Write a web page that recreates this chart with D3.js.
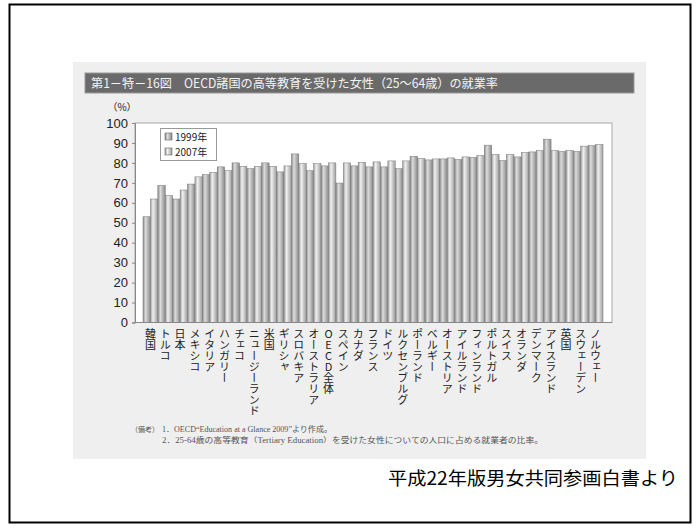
<!DOCTYPE html>
<html>
<head>
<meta charset="utf-8">
<script src="https://cdn.jsdelivr.net/npm/d3@7"></script>
<style>
  body { margin: 0; background: #fff; }
  text { font-family: "Noto Sans CJK JP", "Noto Sans", sans-serif; }
</style>
</head>
<body>
<div id="chart"></div>
<script>
// data
const countries = ["韓国", "トルコ", "日本", "メキシコ", "イタリア", "ハンガリー", "チェコ", "ニュージーランド", "米国", "ギリシャ", "スロバキア", "オーストラリア", "OECD全体", "スペイン", "カナダ", "フランス", "ドイツ", "ルクセンブルグ", "ポーランド", "ベルギー", "オーストリア", "アイルランド", "フィンランド", "ポルトガル", "スイス", "オランダ", "デンマーク", "アイスランド", "英国", "スウェーデン", "ノルウェー"];
const v1999 = [53.0, 68.7, 61.9, 69.4, 74.1, 78.0, 80.0, 77.1, 80.0, 75.5, 84.5, 76.1, 78.5, 69.9, 78.5, 78.0, 78.0, 77.1, 83.3, 81.5, 82.0, 81.7, 82.7, 88.9, 81.2, 83.0, 85.5, 91.9, 85.7, 85.7, 88.7];
const v2007 = [61.9, 63.6, 66.4, 73.0, 75.3, 76.1, 78.3, 78.3, 78.3, 78.5, 79.6, 79.6, 80.0, 80.0, 80.3, 80.5, 81.0, 81.0, 82.2, 82.0, 82.5, 83.0, 83.7, 84.2, 84.2, 85.2, 86.2, 86.2, 86.2, 88.4, 89.2];
const seriesNames = ["1999年", "2007年"];
const yTicks = [0, 10, 20, 30, 40, 50, 60, 70, 80, 90, 100];
const title = "第1－特－16図　OECD諸国の高等教育を受けた女性（25～64歳）の就業率";
const notes = ["1．OECD“Education at a Glance 2009”より作成。", "2．25-64歳の高等教育（Tertiary Education）を受けた女性についての人口に占める就業者の比率。"];
const source = "平成22年版男女共同参画白書より";

const W = 700, H = 528;
const svg = d3.select("#chart").append("svg").attr("width", W).attr("height", H);

// gradients for the cylinder-like bars
const defs = svg.append("defs");
const grads = [["g1999", "#8a8a8a", "#dcdcdc", "#b0b0b0"], ["g2007", "#9e9e9e", "#f0f0f0", "#c2c2c2"]];
grads.forEach(([id, edge, light, mid]) => {
  const g = defs.append("linearGradient").attr("id", id).attr("x1", 0).attr("x2", 1).attr("y1", 0).attr("y2", 0);
  g.append("stop").attr("offset", "0%").attr("stop-color", edge);
  g.append("stop").attr("offset", "35%").attr("stop-color", light);
  g.append("stop").attr("offset", "70%").attr("stop-color", mid);
  g.append("stop").attr("offset", "100%").attr("stop-color", edge);
});

// outer frame
svg.append("rect").attr("x", 9.5).attr("y", 4.5).attr("width", 681).attr("height", 518).attr("fill", "#fff").attr("stroke", "#000").attr("stroke-width", 2);

// scanned figure panel
svg.append("rect").attr("x", 73).attr("y", 62).attr("width", 573).attr("height", 397).attr("fill", "#efefef");
svg.append("rect").attr("x", 85).attr("y", 73).attr("width", 549).attr("height", 20).attr("fill", "#6a6a6a").attr("stroke", "#9a9a9a").attr("stroke-width", 1);
svg.append("text").attr("x", 91).attr("y", 88).attr("fill", "#f4f4f4").style("font-size", "12.5px")
  .attr("textLength", 407).attr("lengthAdjust", "spacingAndGlyphs").text(title);

const margin = { top: 123, left: 135, right: 612, bottom: 322.5 };
const y = d3.scaleLinear().domain([0, 100]).range([margin.bottom, margin.top]);
const x = d3.scaleBand().domain(countries).range([143, 603]).padding(0);
const xs = d3.scaleBand().domain(seriesNames).range([0, x.bandwidth()]).padding(0);

// plot area
svg.append("rect").attr("x", margin.left).attr("y", margin.top).attr("width", margin.right - margin.left).attr("height", margin.bottom - margin.top).attr("fill", "#fff").attr("stroke", "#a8a8a8").attr("stroke-width", 1);

const yAxis = svg.append("g").attr("transform", `translate(${margin.left},0)`)
  .call(d3.axisLeft(y).tickValues(yTicks).tickSize(3).tickPadding(4));
yAxis.select(".domain").attr("stroke", "#888");
yAxis.selectAll(".tick line").attr("stroke", "#888");
yAxis.selectAll(".tick text").attr("fill", "#222").style("font-size", "13px").style("font-family", "Liberation Sans, Arial, sans-serif");
svg.append("text").attr("x", 122).attr("y", 111).attr("text-anchor", "middle").attr("fill", "#222").style("font-size", "10px").text("（%）");

// bars
const rows = countries.map((c, i) => ({ c, vals: [v1999[i], v2007[i]] }));
const groups = svg.append("g").selectAll("g").data(rows).enter().append("g")
  .attr("transform", d => `translate(${x(d.c)},0)`);
groups.selectAll("rect").data(d => d.vals.map((v, k) => ({ k, v }))).enter().append("rect")
  .attr("x", d => xs(seriesNames[d.k]))
  .attr("y", d => y(d.v))
  .attr("width", xs.bandwidth())
  .attr("height", d => y(0) - y(d.v))
  .attr("fill", d => `url(#${grads[d.k][0]})`)
  .attr("stroke", "#777").attr("stroke-width", 0.5);

// baseline
svg.append("line").attr("x1", margin.left).attr("x2", margin.right).attr("y1", y(0)).attr("y2", y(0)).attr("stroke", "#888");

// legend
svg.append("rect").attr("x", 160.5).attr("y", 128.5).attr("width", 56).attr("height", 32).attr("fill", "#fff").attr("stroke", "#999");
const lg = svg.append("g").selectAll("g").data(seriesNames).enter().append("g")
  .attr("transform", (d, i) => `translate(165,${137 + i * 15})`);
lg.append("rect").attr("x", 0).attr("y", -4).attr("width", 7).attr("height", 7)
  .attr("fill", (d, i) => `url(#${grads[i][0]})`).attr("stroke", "#666").attr("stroke-width", 0.6);
lg.append("text").attr("x", 10).attr("y", 3.5).attr("fill", "#222").style("font-size", "10px").text(d => d);

// vertical country labels
svg.append("g").selectAll("text").data(countries).enter().append("text")
  .attr("x", d => x(d) + x.bandwidth() / 2)
  .attr("y", 328)
  .style("writing-mode", "vertical-rl")
  .style("text-orientation", "upright")
  .style("font-size", "11px")
  .attr("fill", "#222")
  .text(d => d);

// notes
const nf = "'Liberation Serif', 'Noto Sans CJK JP', serif";
svg.append("text").attr("x", 131).attr("y", 432).attr("fill", "#555").style("font-size", "7px").style("font-family", nf).text("（備考）");
svg.append("g").selectAll("text").data(notes).enter().append("text")
  .attr("x", 162).attr("y", (d, i) => 432 + i * 11)
  .attr("fill", "#555").style("font-size", "7.5px").style("font-family", nf)
  .attr("textLength", (d, i) => i === 0 ? 170 : 381).attr("lengthAdjust", "spacingAndGlyphs")
  .text(d => d);

// source line
svg.append("text").attr("x", 388).attr("y", 485).attr("fill", "#000").style("font-size", "18px")
  .attr("textLength", 290).attr("lengthAdjust", "spacingAndGlyphs").text(source);
</script>
</body>
</html>
